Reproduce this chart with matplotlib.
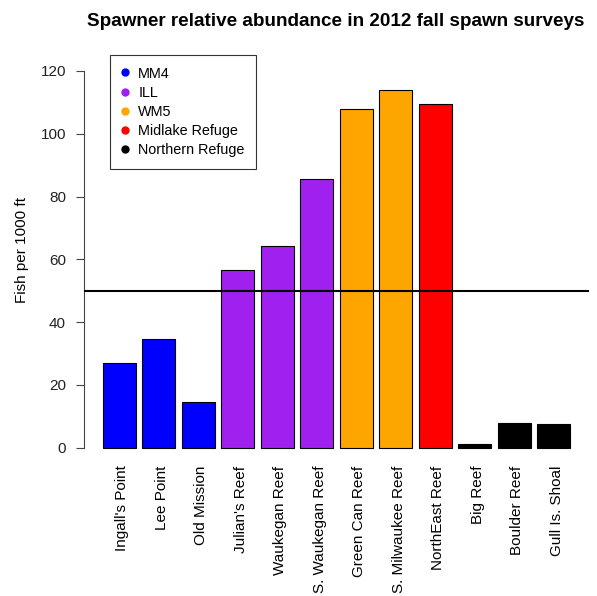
import matplotlib
matplotlib.use("Agg")
import matplotlib.pyplot as plt
from matplotlib.lines import Line2D
from matplotlib.transforms import ScaledTranslation

plt.rcParams['font.family'] = ['Liberation Sans', 'DejaVu Sans']

# Survey sites, grouped by management unit
sites = ["Ingall's Point", "Lee Point", "Old Mission", "Julian's Reef",
         "Waukegan Reef", "S. Waukegan Reef", "Green Can Reef",
         "S. Milwaukee Reef", "NorthEast Reef", "Big Reef", "Boulder Reef",
         "Gull Is. Shoal"]
fish_per_1000ft = [26.9, 34.5, 14.6, 56.5, 64.4, 85.7, 107.9, 114.0, 109.6,
                   1.1, 7.8, 7.4]
site_unit = ["MM4", "MM4", "MM4", "ILL", "ILL", "ILL", "WM5", "WM5",
             "Midlake Refuge", "Northern Refuge", "Northern Refuge",
             "Northern Refuge"]
units = ["MM4", "ILL", "WM5", "Midlake Refuge", "Northern Refuge"]
unit_colors = ["#0000FF", "#A020F0", "#FFA500", "#FF0000", "#000000"]
reference_level = 50

W, H = 597, 596
fig = plt.figure(figsize=(W / 100, H / 100), dpi=100)
left, right, top, bottom = 84.0, 589.0, 55.9, 462.8
ax = fig.add_axes([left / W, 1 - bottom / H, (right - left) / W, (bottom - top) / H])

color_of = dict(zip(units, unit_colors))
positions = [0.7 + 1.2 * i for i in range(len(sites))]
ax.bar(positions, fish_per_1000ft, width=1.0,
       color=[color_of[u] for u in site_unit],
       edgecolor="black", linewidth=0.8, zorder=2)
ax.axhline(reference_level, color="black", linewidth=1.5, zorder=3)

ax.set_xlim(-0.368, 14.968)
ax.set_ylim(-4.8, 124.8)

for s in ["top", "right", "bottom"]:
    ax.spines[s].set_visible(False)
ax.spines["left"].set_bounds(0, 120)
ax.spines["left"].set_linewidth(0.8)
ax.spines["left"].set_color("#444444")

ax.set_yticks(range(0, 121, 20))
ax.tick_params(axis="y", direction="out", length=5.5, width=0.8,
               color="#444444", labelsize=11, pad=7.5, labelcolor="#222222")
ax.set_xticks(positions)
ax.set_xticklabels(sites, rotation=90, fontsize=11, va="top", ha="center")
ax.tick_params(axis="x", length=0, pad=2)
shift = ScaledTranslation(3 / 100, 0, fig.dpi_scale_trans)
for lbl in ax.get_xticklabels():
    lbl.set_transform(lbl.get_transform() + shift)

fig.text(22.5 / W, 1 - 250 / H, "Fish per 1000 ft", rotation=90,
         ha="center", va="center", fontsize=11)
fig.text(335.5 / W, 1 - 26.5 / H, "Spawner relative abundance in 2012 fall spawn surveys",
         ha="center", va="baseline", fontsize=13.6, fontweight="bold")

handles = [Line2D([], [], marker="o", linestyle="none", markersize=5,
                  markerfacecolor=c, markeredgecolor=c) for c in unit_colors]
leg = ax.legend(handles, units, loc="upper left",
                bbox_to_anchor=(110 / W, 1 - 55 / H), bbox_transform=fig.transFigure,
                borderaxespad=0, fontsize=10.4, frameon=True, fancybox=False,
                borderpad=0.8, handlelength=0.47, handletextpad=0.68,
                labelspacing=0.36)
leg.get_frame().set_edgecolor("black")
leg.get_frame().set_linewidth(0.8)

fig.savefig("out.png", dpi=100)
